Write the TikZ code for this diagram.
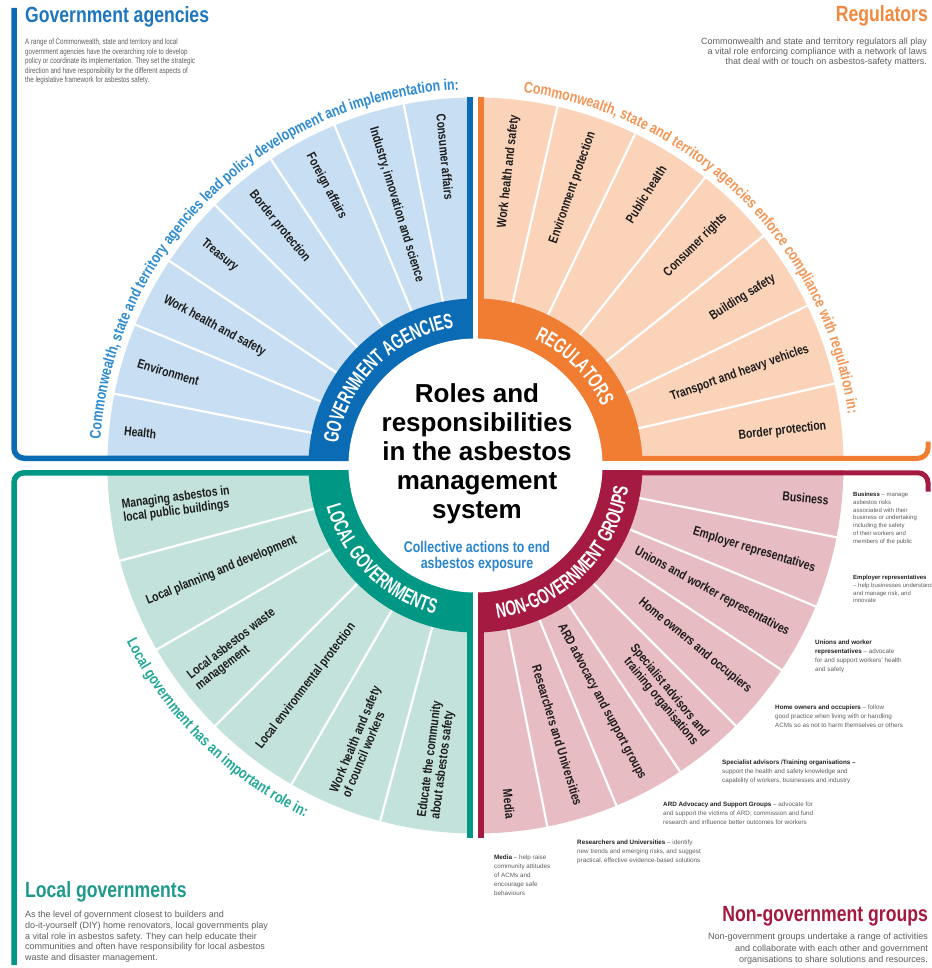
\documentclass[tikz,border=0pt]{standalone}
\usepackage{fontspec}
\setmainfont{Liberation Sans}
\newfontfamily\cnd[FakeStretch=0.8]{Liberation Sans}
\newfontfamily\rng[FakeStretch=0.66]{Liberation Sans}
\newfontfamily\nrw[FakeStretch=0.78]{Liberation Sans}
\usetikzlibrary{decorations.text}
\definecolor{bluedk}{HTML}{0B6CB5}
\definecolor{bluelt}{HTML}{C8DEF2}
\definecolor{bluetx}{HTML}{2D8BD1}
\definecolor{bluehd}{HTML}{1E77BE}
\definecolor{orgdk}{HTML}{F07D32}
\definecolor{orglt}{HTML}{FAD3B9}
\definecolor{orgtx}{HTML}{F39656}
\definecolor{orghd}{HTML}{F0893D}
\definecolor{tealdk}{HTML}{009784}
\definecolor{teallt}{HTML}{C4E2DC}
\definecolor{tealtx}{HTML}{22A898}
\definecolor{tealhd}{HTML}{1E9A8C}
\definecolor{crdk}{HTML}{A51A40}
\definecolor{crlt}{HTML}{E8BCC3}
\definecolor{crhd}{HTML}{A3193F}
\definecolor{txtgray}{HTML}{5E5E5E}
\definecolor{leadc}{HTML}{222222}
\definecolor{labc}{HTML}{1C1C1C}
\definecolor{subc}{HTML}{2A85CF}
\newcommand\ringfont{\rng\bfseries\fontsize{21}{21}\selectfont}
\newcommand\arcfont{\cnd\bfseries\fontsize{15.5}{16}\selectfont}
\newcommand\ld[1]{{\bfseries\color{leadc}#1}}
\begin{document}
\begin{tikzpicture}[x=1pt,y=1pt,
  wlab/.style={font=\cnd\bfseries\fontsize{13}{13.5}\selectfont, inner sep=0, text=labc},
  desc/.style={font=\fontsize{6.3}{9}\selectfont, text=txtgray, align=left, inner sep=0, anchor=north west},
  descs/.style={desc, font=\fontsize{6}{7.8}\selectfont},
  body/.style={font=\fontsize{9}{10.7}\selectfont, text=txtgray, inner sep=0},
  head/.style={font=\cnd\bfseries\fontsize{22}{22}\selectfont, inner sep=0},
  gapline/.style={white, line width=2.2}]
\useasboundingbox (0,0) rectangle (931,-968);
\fill[white] (0,0) rectangle (931,-968);

\begin{scope}[shift={(475.5,-465.5)}]
  % light sectors
  \fill[bluelt] (0,0) -- (90:368) arc[start angle=90,end angle=180,radius=368] -- cycle;
  \fill[orglt] (0,0) -- (0:368) arc[start angle=0,end angle=90,radius=368] -- cycle;
  \fill[teallt] (0,0) -- (180:368) arc[start angle=180,end angle=270,radius=368] -- cycle;
  \fill[crlt] (0,0) -- (270:368) arc[start angle=270,end angle=360,radius=368] -- cycle;
  % dividers
  \foreach \a in {101.25,112.5,123.75,135,146.25,157.5,168.75} \draw[gapline] (\a:160) -- (\a:370);
  \foreach \a in {77.143,64.286,51.429,38.571,25.714,12.857} \draw[gapline] (\a:160) -- (\a:370);
  \foreach \a in {195,210,225,240,255} \draw[gapline] (\a:160) -- (\a:370);
  \foreach \a in {281.25,292.5,303.75,315,326.25,337.5,348.75} \draw[gapline] (\a:160) -- (\a:370);
  % dark rings
  \fill[bluedk] (0,0) -- (90:167) arc[start angle=90,end angle=180,radius=167] -- cycle;
  \fill[orgdk] (0,0) -- (0:167) arc[start angle=0,end angle=90,radius=167] -- cycle;
  \fill[tealdk] (0,0) -- (180:167) arc[start angle=180,end angle=270,radius=167] -- cycle;
  \fill[crdk] (0,0) -- (270:167) arc[start angle=270,end angle=360,radius=167] -- cycle;
  % white gaps
  \fill[white] (-2.5,-385) rectangle (2.5,385);
  \fill[white] (-385,-4.5) rectangle (385,4.5);
  % edge bars
  \fill[bluedk] (-8.5,4.5) rectangle (-2.5,368);
  \fill[orgdk] (2.5,4.5) rectangle (8.5,368);
  \fill[tealdk] (-8.5,-4.5) rectangle (-2.5,-372);
  \fill[crdk] (2.5,-4.5) rectangle (8.5,-372);
  % frames
  \draw[bluedk, line width=5.5, rounded corners=10] (-120,7.25) -- (-461.5,7.25) -- (-461.5,457.5);
  \draw[orgdk, line width=5, rounded corners=10] (120,7.25) -- (452.5,7.25) -- (452.5,24);
  \draw[tealdk, line width=5.5, rounded corners=10] (-120,-7.25) -- (-461.5,-7.25) -- (-461.5,-499.5);
  \draw[crdk, line width=5, rounded corners=10] (120,-7.25) -- (452.5,-7.25) -- (452.5,-26);
  % centre disc
  \fill[white] (0,0) circle[radius=127];

  % ring labels
  \path[decorate, decoration={text along path, text align=center, text color=white,
     text={|\ringfont|GOVERNMENT AGENCIES}}] (180:139.5) arc[start angle=180,end angle=90,radius=139.5];
  \path[decorate, decoration={text along path, text align=center, text color=white,
     text={|\ringfont|REGULATORS}}] (90:139.5) arc[start angle=90,end angle=0,radius=139.5];
  \path[decorate, decoration={text along path, text align=center, text color=white,
     text={|\ringfont|LOCAL GOVERNMENTS}}] (180:154.5) arc[start angle=180,end angle=270,radius=154.5];
  \path[decorate, decoration={text along path, text align=center, text color=white,
     text={|\ringfont|NON-GOVERNMENT GROUPS}}] (270:154.5) arc[start angle=270,end angle=360,radius=154.5];

  % outer arc texts
  \path[decorate, decoration={text along path, text align=center, text color=bluetx,
     text={|\arcfont|Commonwealth, state and territory agencies lead policy development and implementation in:}}]
     (182:376) arc[start angle=182,end angle=86.5,radius=376];
  \path[decorate, decoration={text along path, text align=center, text color=orgtx,
     text={|\arcfont|Commonwealth, state and territory agencies enforce compliance with regulation in:}}]
     (92:376) arc[start angle=92,end angle=-1.5,radius=376];
  \path[decorate, decoration={text along path, text align=center, text color=tealtx,
     text={|\arcfont|Local government has an important role in:}}]
     (180:391) arc[start angle=180,end angle=271,radius=391];

  % wedge labels: government agencies
  \foreach \a/\t [count=\i, evaluate=\a as \r using \a+180] in
    {95.625/Consumer affairs, 106.875/{Industry, innovation and science}, 118.125/Foreign affairs,
     129.375/Border protection, 140.625/Treasury, 151.875/Work health and safety,
     163.125/Environment, 174.375/Health}
    \node[wlab, anchor=west, rotate=\r] (ga\i) at (\a:353) {\t};
  % regulators
  \foreach \a/\t [count=\i] in
    {83.571/Work health and safety, 70.714/Environment protection, 57.857/Public health,
     45/Consumer rights, 32.143/Building safety, 19.286/Transport and heavy vehicles,
     6.429/Border protection}
    \node[wlab, anchor=east, rotate=\a] (rg\i) at (\a:353) {\t};
  % local governments
  \foreach \a/\t [count=\i, evaluate=\a as \r using \a-180] in
    {187.5/{Managing asbestos in\\local public buildings}, 202.5/Local planning and development,
     217.5/{Local asbestos waste\\management}, 232.5/Local environmental protection,
     247.5/{Work health and safety\\of council workers}, 262.5/{Educate the community\\about asbestos safety}}
    \node[wlab, anchor=west, align=left, rotate=\r] (lg\i) at (\a:356) {\t};
  % non-government groups
  \foreach \a/\t [count=\i] in
    {354.375/Business, 343.125/Employer representatives, 331.875/Unions and worker representatives,
     320.625/Home owners and occupiers, 309.375/{Specialist advisors and\\training organisations},
     298.125/ARD advocacy and support groups, 286.875/Researchers and Universities, 275.625/Media}
    \node[wlab, anchor=east, align=right, rotate=\a] (ng\i) at (\a:355) {\t};
\end{scope}

% centre title
\foreach \t/\y [count=\i] in {Roles and/402, responsibilities/431, in the asbestos/460, management/489, system/518}
  \node[font=\bfseries\fontsize{26}{26}\selectfont, anchor=base, inner sep=0] (title\i) at (477,-\y) {\t};
\node[font=\cnd\bfseries\fontsize{15.5}{16}\selectfont, text=subc, anchor=base, inner sep=0] (sub1) at (477,-552) {Collective actions to end};
\node[font=\cnd\bfseries\fontsize{15.5}{16}\selectfont, text=subc, anchor=base, inner sep=0] (sub2) at (477,-568) {asbestos exposure};

% headings
\node[head, text=bluehd, anchor=base west] (hga) at (25,-23) {Government agencies};
\node[head, text=orghd, anchor=base east] (hrg) at (928,-22) {Regulators};
\node[head, text=tealhd, anchor=base west] (hlg) at (25,-897) {Local governments};
\node[head, text=crhd, anchor=base east] (hng) at (928,-921) {Non-government groups};

% intro texts
\node[body, font=\nrw\fontsize{8}{9.5}\selectfont, anchor=north west, align=left] (bga) at (25,-39)
  {A range of Commonwealth, state and territory and local\\government agencies have the overarching role to develop\\policy or coordinate its implementation. They set the strategic\\direction and have responsibility for the different aspects of\\the legislative framework for asbestos safety.};
\node[body, font=\fontsize{9}{9.8}\selectfont, anchor=north east, align=right] (brg) at (927,-38)
  {Commonwealth and state and territory regulators all play\\a vital role enforcing compliance with a network of laws\\that deal with or touch on asbestos-safety matters.};
\node[body, anchor=north west, align=left] (blg) at (25,-911)
  {As the level of government closest to builders and\\do-it-yourself (DIY) home renovators, local governments play\\a vital role in asbestos safety. They can help educate their\\communities and often have responsibility for local asbestos\\waste and disaster management.};
\node[body, font=\fontsize{9}{11.5}\selectfont, anchor=north east, align=right] (bng) at (928,-933)
  {Non-government groups undertake a range of activities\\and collaborate with each other and government\\organisations to share solutions and resources.};

% non-government group descriptions
\node[descs] (d1) at (853,-492) {\ld{Business} – manage\\asbestos risks\\associated with their\\business or undertaking\\including the safety\\of their workers and\\members of the public};
\node[descs] (d2) at (853,-575) {\ld{Employer representatives}\\– help businesses understand\\and manage risk, and\\innovate};
\node[desc] (d3) at (815,-640) {\ld{Unions and worker}\\\ld{representatives} – advocate\\for and support workers' health\\and safety};
\node[desc] (d4) at (775,-705) {\ld{Home owners and occupiers} – follow\\good practice when living with or handling\\ACMs so as not to harm themselves or others};
\node[desc] (d5) at (722,-760) {\ld{Specialist advisors /Training organisations –}\\support the health and safety knowledge and\\capability of workers, businesses and industry};
\node[desc] (d6) at (663,-802) {\ld{ARD Advocacy and Support Groups} – advocate for\\and support the victims of ARD; commission and fund\\research and influence better outcomes for workers};
\node[desc] (d7) at (577,-840) {\ld{Researchers and Universities} – identify\\new trends and emerging risks, and suggest\\practical, effective evidence-based solutions};
\node[desc] (d8) at (494,-855) {\ld{Media} – help raise\\community attitudes\\of ACMs and\\encourage safe\\behaviours};
\end{tikzpicture}
\end{document}
